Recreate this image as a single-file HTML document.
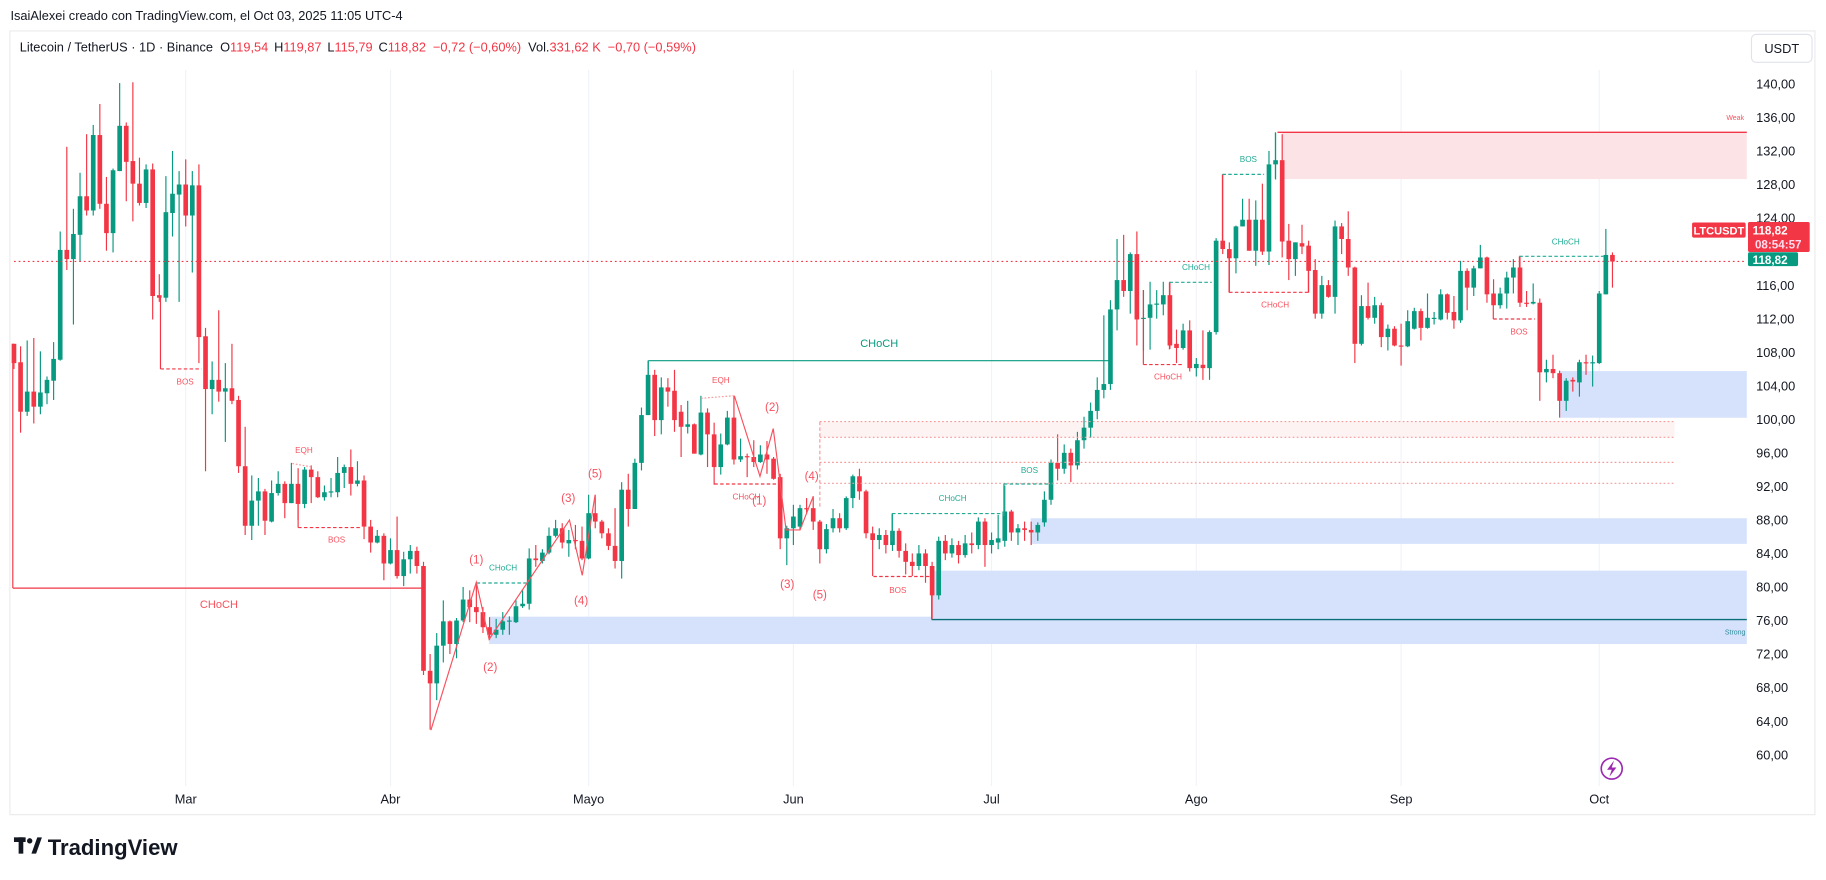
<!DOCTYPE html>
<html><head><meta charset="utf-8"><style>
html,body{margin:0;padding:0;background:#fff;width:1826px;height:880px;overflow:hidden}
svg{display:block}
text{font-family:"Liberation Sans",sans-serif}
</style></head><body>
<svg id="chart" width="1826" height="880" viewBox="0 0 1568 755.6" xmlns="http://www.w3.org/2000/svg">
<text x="9" y="17" font-size="11" fill="#131722">IsaiAlexei creado con TradingView.com, el Oct 03, 2025 11:05 UTC-4</text>
<rect x="8.5" y="26.5" width="1550" height="673" fill="#fff" stroke="#ebebeb"/>
<text x="17" y="44" font-size="11" fill="#131722">Litecoin / TetherUS · 1D · Binance <tspan dx="3">O</tspan><tspan fill="#f23645">119,54</tspan><tspan dx="5">H</tspan><tspan fill="#f23645">119,87</tspan><tspan dx="5">L</tspan><tspan fill="#f23645">115,79</tspan><tspan dx="5">C</tspan><tspan fill="#f23645">118,82</tspan><tspan dx="6" fill="#f23645">−0,72 (−0,60%)</tspan><tspan dx="6">Vol.</tspan><tspan fill="#f23645">331,62 K</tspan><tspan dx="6" fill="#f23645">−0,70 (−0,59%)</tspan></text>
<g id="grid"></g>
<g id="zones"></g>
<g id="candles"></g>
<g id="annot"></g>
<g id="axis"></g>
<g id="tags"></g>
<rect x="1504" y="29.5" width="52" height="24" rx="4" fill="#fff" stroke="#e0e3eb"/>
<text x="1530" y="45.5" font-size="11" text-anchor="middle" fill="#131722">USDT</text>
<g>
<rect x="12" y="719" width="10" height="4" fill="#131722"/><rect x="16" y="719" width="4" height="14" fill="#131722"/>
<circle cx="25.5" cy="722" r="2.3" fill="#131722"/><path d="M27 733 L32 719 L36 719 L31 733 Z" fill="#131722"/>
<text x="41" y="734" font-size="19" font-weight="bold" fill="#131722">TradingView</text>
</g>
<g><circle cx="1384" cy="660" r="9" fill="none" stroke="#9c27b0" stroke-width="1.4"/><path d="M1386 653 L1380 661 L1384 661 L1382 667 L1388 659 L1384 659 Z" fill="#9c27b0"/></g>
</svg>
<script>
const opens=[109,106.8,100.9,103.3,101.5,103.1,104.6,107.1,120.2,119.1,122.0,126.6,124.9,133.9,125.7,122.2,129.6,135.0,130.8,128.1,125.8,129.8,114.8,114.5,124.6,126.8,128.0,124.3,127.9,109.9,103.6,104.7,103.3,103.7,102.3,94.4,87.3,90.3,91.4,87.8,91.2,92.3,90.0,92.3,89.9,94.0,93.1,90.7,91.3,91.3,93.6,94.3,92.3,92.7,87.2,85.3,86.1,82.8,84.4,81.3,83.3,84.3,82.5,70.0,68.5,73.0,75.9,73.2,76.0,78.5,77.6,77.0,75.2,74.3,74.9,75.9,75.8,77.7,78.0,83.4,83.1,84.1,86.1,87.0,85.2,85.6,85.5,83.4,88.8,87.8,86.4,84.9,83.1,91.6,89.3,94.8,100.5,105.3,99.9,103.8,103.4,100.9,99.1,99.4,95.8,100.8,98.2,94.3,97.0,100.2,95.2,95.6,95.5,94.9,95.8,95.3,93.1,85.8,87.0,87.2,89.4,89.4,87.8,84.5,87.0,88.2,87.0,90.6,93.2,91.4,86.4,85.6,86.2,85.0,86.7,84.3,83.0,82.5,84.0,82.5,79.0,85.5,84.0,85.0,83.8,85.2,85.0,87.8,85.0,85.3,85.5,89.0,86.5,87.0,86.8,86.5,87.7,90.4,94.8,94.1,96,94.5,97.5,99,101,103.5,104.2,113.1,116.6,115.3,119.7,112.0,112.1,113.7,113.7,114.8,109.0,108.5,110.6,106.1,106.5,106.1,110.4,121.3,120.3,119.2,123.0,123.8,120.1,123.8,120.0,130.4,130.9,121.3,119.1,121.0,120.7,117.8,112.6,116.0,114.6,123.0,121.5,118.1,109.0,113.5,112.1,113.6,109.8,110.8,108.8,108.7,110.8,112.9,110.9,112.0,111.9,114.9,112.8,111.8,117.7,115.7,118.0,119.3,115.0,113.6,115.0,116.9,118.1,113.9,113.8,113.9,105.6,106.0,105.5,102.2,104.7,104.4,106.8,106.7,106.7,114.9,119.6];
const highs=[109,108.7,109.4,109.7,108.1,105.1,109.2,122.4,132.5,125.1,129.4,134.0,135.1,137.6,128.9,129.9,140.1,135.4,140.2,131.2,130.4,130.5,117.3,129.0,132.0,129.6,131.0,129.6,130.4,110.9,106.9,113.0,106.7,109.0,102.8,99.1,93.3,93.0,91.7,92.7,93.8,92.6,94.8,92.3,94.3,94.5,93.8,92.1,93.0,95.5,94.6,96.4,95.0,93.3,88.0,86.8,86.4,85.8,88.4,84.2,85.0,84.8,83.0,72.0,74.5,78.4,76.0,76.3,80.0,79.6,80.5,77.6,76.4,76.2,77.0,76.5,78.4,79.6,84.6,85.0,84.5,87.1,88.0,87.6,86.8,87.4,87.2,91.0,91.0,88.0,87.0,89.4,92.5,93.5,95.3,101.4,107.0,105.9,105.0,104.9,105.9,101.7,102.2,99.5,102.8,101.3,99.6,98.3,101.0,102.8,97.7,95.9,97.5,96.9,97.4,95.5,93.5,87.3,89.8,89.8,90.6,90.8,88.0,87.5,89.3,88.8,90.8,93.4,94.1,91.6,87.2,87.0,86.8,88.8,87.0,85.2,84.0,85.0,84.5,83.0,86.0,86.2,85.8,85.5,86.2,86.5,88.3,88.2,86.5,88.6,92.1,89.2,87.5,87.8,87.8,87.7,91.4,95.2,98.2,97,96.5,98.5,100.3,102,105,112.4,114.2,121.5,122.0,119.9,122.4,115.4,116.4,115.4,116.4,116.4,110.7,111.4,111.8,107.3,110.6,110.6,121.6,129.2,121.1,123.1,126.3,126.3,126.1,128.1,132.0,134.2,134.0,123.3,121.1,123.2,121.3,119.1,117.1,116.6,123.7,123.4,124.8,118.2,114.8,116.3,114.6,113.9,111.3,111.1,111.4,113.0,113.3,113.2,115.0,112.8,115.5,115.0,114.7,118.9,118.0,118.3,120.8,119.4,116.7,115.7,117.6,119.1,119.5,115.3,116.2,114.4,107.1,107.7,105.8,104.9,105.0,107.1,107.7,107.6,115.3,122.7,119.9];
const lows=[106,98.4,100.4,99.5,100.6,101.8,102.3,107,117.8,111.3,118.8,124.3,124.3,125.1,120.1,119.9,129.6,126.0,123.6,125.5,125.2,111.9,114.0,114.0,121.8,114.0,123.0,117.5,106.7,93.8,100.6,102.1,97.3,101.8,93.6,86.2,85.6,87.3,86.2,87.7,90.9,88.2,90.0,88.0,89.4,90.0,90.6,90.3,90.7,90.7,91.8,90.9,92.0,85.7,84.1,85.2,80.8,82.7,81.0,80.1,81.6,81.6,69.5,63.0,66.5,71.0,72.0,71.5,75.8,75.8,75.6,74.5,73.7,73.9,74.3,74.3,75.7,77.5,77.3,82.4,82.8,83.9,85.9,84.6,83.6,84.5,83.2,83.3,87.0,85.8,84.4,82.2,81.0,87.2,89.3,93.9,100.5,98.0,98.2,101.5,98.5,95.5,98.3,95.9,95.7,94.3,92.2,93.4,96.9,94.6,94.9,93.1,94.3,94.8,93.5,92.8,84.5,82.6,85.0,86.8,88.8,86.8,82.8,84.0,86.5,86.5,86.8,89.4,90.4,85.8,81.3,84.5,84.0,84.3,83.5,81.5,81.3,82.0,80.5,76.2,78.5,83.2,83.5,82.8,83.5,84.0,84.5,82.4,84.0,84.5,84.8,85.5,85.0,85.5,85.0,85.5,87.2,89.8,92.7,93.5,92.5,94,96.5,97.8,100,102.5,103.5,110.6,114.6,112.6,108.8,108.2,108.3,112,112.4,108.4,106.7,108.3,105.7,105.1,104.7,104.7,110.1,119.7,115.1,117.4,123.0,120.1,118.3,119.6,118.4,128.6,119.3,116.6,117.1,119.7,115.1,112.0,112.0,114.5,112.6,119.7,117.1,106.7,108.8,111.9,111.4,108.6,108.2,108.7,106.4,108.6,110.7,109.4,110.8,111.3,111.8,111.9,110.8,111.5,113.0,114.7,118.0,113.9,113.6,113.2,113.2,115.0,113.4,113.4,113.7,102.2,104.4,104.9,100.2,101.0,103.3,102.7,105.3,103.9,106.6,114.9,115.7];
const closes=[106.7,100.9,103.3,101.5,103.2,104.7,107.2,120.2,119.1,122.1,126.6,124.9,133.9,125.7,122.2,129.7,135.0,130.7,128.1,125.8,129.8,114.7,114.5,124.7,126.9,128.0,124.3,127.9,109.8,103.6,104.7,103.3,103.7,102.2,94.4,87.3,90.3,91.4,87.9,91.2,92.3,90.0,92.3,89.9,94.0,93.1,90.7,91.3,91.4,93.6,94.3,92.3,92.7,87.2,85.3,86.1,82.8,84.4,81.3,83.3,84.3,82.5,70.0,68.5,73.0,75.9,73.2,76.0,78.5,77.6,77.0,75.2,74.3,74.9,75.9,76.0,77.7,78.0,83.4,83.2,84.1,86.1,87.0,85.3,85.6,85.5,83.4,88.8,87.8,86.4,84.9,83.1,91.6,89.3,94.8,100.5,105.3,99.9,103.8,103.3,99.9,99.1,99.4,95.9,100.8,98.2,94.3,97.0,100.2,95.2,95.6,95.5,94.9,95.8,95.2,92.9,85.8,87.0,88.4,89.4,89.3,87.8,84.5,86.9,88.2,87.0,90.6,93.2,91.4,86.4,85.6,86.2,85.0,86.7,84.3,83.0,82.5,84.0,82.5,79.0,85.5,84.0,85.0,83.8,85.2,85.0,87.8,85.0,85.6,85.8,89.0,86.5,87.0,86.8,86.5,87.4,90.4,94.8,94.1,96,94.5,97.5,99,101,103.5,104.2,113.1,116.6,115.3,119.7,111.9,112.1,113.7,113.8,114.8,108.8,108.5,110.6,106.1,106.6,106.1,110.4,121.3,120.3,119.2,123.0,123.8,120.1,123.8,120.0,130.4,130.9,121.2,119.1,121.1,120.6,117.7,112.6,116.0,114.6,123.0,121.5,118.1,109.0,113.5,112.1,113.6,109.8,110.8,108.8,108.7,111.7,112.9,110.9,112.1,112.1,114.9,112.7,111.8,117.7,115.7,118.0,119.3,114.9,113.6,115.0,116.9,118.1,113.9,113.8,114.0,105.6,106.0,105.5,102.2,104.6,104.5,106.8,106.7,106.8,115.0,119.6,118.82];
const priceTicks=[140,136,132,128,124,116,112,108,104,100,96,92,88,84,80,76,72,68,64,60];
const monthLabels=["Mar","Abr","Mayo","Jun","Jul","Ago","Sep","Oct"];
const monthDayIndex=[26,57,87,118,148,179,210,240];
const lastPrice=118.82;

const NS="http://www.w3.org/2000/svg";
const GREEN="#089981",RED="#f23645";
function y(p){return 72+(140-p)*7.2;}
function x(i){return 12+i*5.672;}
function mk(parent,tag,attrs){const e=document.createElementNS(NS,tag);for(const k in attrs)e.setAttribute(k,attrs[k]);document.getElementById(parent).appendChild(e);return e;}

monthDayIndex.forEach((d,k)=>{
  const g=mk('grid','line',{x1:x(d),x2:x(d),y1:60,y2:675,stroke:'#f0f3fa','stroke-width':1});
  
  
  const t=mk('axis','text',{x:x(d),y:690,'font-size':11,'text-anchor':'middle',fill:'#131722'});
  t.textContent=monthLabels[k];
  
  
});
priceTicks.forEach(p=>{
  const t=mk('axis','text',{x:1508,y:y(p)+4,'font-size':11,fill:'#131722'});
  t.textContent=p.toFixed(2).replace('.',',');
  
  
});

function rect(par,name,x1,y1,x2,y2,fill,extra){const r=mk(par,'rect',Object.assign({x:x1,y:y1,width:x2-x1,height:y2-y1,fill:fill},extra||{}));return r;}
rect('zones','supply-zone-weak',1101,113.6,1500,153.7,'#fce4e6');
rect('zones','demand-zone-1',1339,318.6,1500,358.7,'#d6e2fc');
rect('zones','demand-zone-2',885,445,1500,467,'#d6e2fc');
rect('zones','demand-zone-3',800,490,1500,531,'#d6e2fc');
rect('zones','demand-zone-4',420,529.5,1500,553,'#d6e2fc');
rect('zones','fvg-zone',704,362,1438,375.5,'#fdf3f2');

for(let i=0;i<closes.length;i++){
  const up=closes[i]>=opens[i],c=up?GREEN:RED,cx=x(i);
  const w=mk('candles','line',{x1:cx,x2:cx,y1:y(highs[i]),y2:y(lows[i]),stroke:c,'stroke-width':1});
  
  
  const top=y(Math.max(opens[i],closes[i])),bot=y(Math.min(opens[i],closes[i]));
  const b=mk('candles','rect',{x:cx-2,y:top,width:4,height:Math.max(1,bot-top),fill:c});
  
  
}

function ln(name,x1,y1,x2,y2,col,dash,w){const l=mk('annot','line',{x1,y1,x2,y2,stroke:col,'stroke-width':w||1,'stroke-dasharray':dash||'none'});return l;}
function tx(name,t,xx,yy,col,fs,par,bold){const e=mk(par||'annot','text',{x:xx,y:yy,fill:col,'font-size':fs||7,'text-anchor':'middle','font-weight':bold?'bold':'normal'});e.textContent=t;return e;}
const LR="#f7525f",LG="#22ab94",DOT="#f59a9a";
ln('last-price-line',12,y(lastPrice),1500,y(lastPrice),RED,'1.5 2.5');
ln('zone-line',704,362,1438,362,DOT,'1.5 2');ln('zone-line',704,375.5,1438,375.5,DOT,'1.5 2');
ln('zone-line',704,397,1438,397,DOT,'1.5 2');ln('zone-line',704,415,1438,415,DOT,'1.5 2');
ln('zone-line',704,362,704,436,DOT,'3 2');
ln('weak-high-line',1097,113.6,1500,113.6,RED,null,1.2);
ln('weak-high-vert',1095.2,113.6,1095.2,153.7,GREEN);
tx('weak-label','Weak',1490,103,LR,6);
ln('strong-low-line',800,532,1500,532,'#0b6e78',null,1.2);
ln('strong-low-vert',800,505,800,532,RED);
tx('strong-label','Strong',1490,545,'#2f8c9a',6);
ln('choch-red-vert',11,295,11,505,RED);ln('choch-red-line',11,505,362,505,RED);
tx('choch-label','CHoCH',188,522,LR,9.5);
ln('choch-green-vert',556.7,309.7,556.7,322,'#089981');ln('choch-green-line',556.7,309.7,952,309.7,'#089981');
tx('choch-label','CHoCH',755,298,'#089981',9.5);
ln('bos-vert',137.8,y(114.7),137.8,316.8,RED);ln('bos-line',137.8,316.8,173,316.8,RED,'3 2');
tx('bos-label','BOS',159,330,LR);
ln('eqh-line',251,398,268,401,DOT,'1.5 1.5');tx('eqh-label','EQH',261,389,LR);
ln('bos-vert',256,402,256,453,RED);ln('bos-line',256,453,310,453,RED,'3 2');tx('bos-label','BOS',289,466,LR);
ln('choch-line',409.3,500.6,452,500.6,LG,'3 2');tx('choch-label','CHoCH',432,490,LG);
const wave=mk('annot','polyline',{points:'370,627 409,500 420,549 489,446.5 500,494 511,425',fill:'none',stroke:LR,'stroke-width':1});


tx('wave-label','(1)',409,484,LR,10);tx('wave-label','(2)',421,576,LR,10);tx('wave-label','(3)',488,431,LR,10);tx('wave-label','(4)',499,519,LR,10);tx('wave-label','(5)',511,410,LR,10);
const wave2=mk('annot','polyline',{points:'630.6,339.8 652.6,409 664,368 675,455 687,455 698.4,426',fill:'none',stroke:LR,'stroke-width':1});


ln('eqh-line',602,342,630,339.8,DOT,'1.5 1.5');tx('eqh-label','EQH',619,329,LR);
ln('choch-line',613.4,415.6,668.4,415.6,RED,'3 2');tx('choch-label','CHoCH',641,429,LR);
tx('wave-label','(2)',663,353,LR,10);tx('wave-label','(1)',652,433,LR,10);tx('wave-label','(3)',676,505,LR,10);tx('wave-label','(4)',697,412,LR,10);tx('wave-label','(5)',704,514,LR,10);
ln('choch-vert',766,441,766,465,LG);ln('choch-line',766,441,862,441,LG,'3 2');tx('choch-label','CHoCH',818,430,LG);
ln('bos-line',750,495,800,495,RED,'3 2');tx('bos-label','BOS',771,509,LR);
ln('bos-vert',862,415.6,862,443,LG);ln('bos-line',862,415.6,904.5,415.6,LG,'3 2');tx('bos-label','BOS',884,406,LG);
ln('choch-vert',981.8,249,981.8,313,RED);ln('choch-line',981.8,313,1016,313,RED,'3 2');tx('choch-label','CHoCH',1003,326,LR);
ln('choch-vert',1004.2,242.4,1004.2,300,RED);ln('choch-line',1004.2,242.4,1040.5,242.4,LG,'3 2');tx('choch-label','CHoCH',1027,232,LG);
ln('bos-vert',1049.7,149.7,1049.7,206.7,RED);ln('bos-line',1049.7,149.7,1085.5,149.7,LG,'3 2');tx('bos-label','BOS',1072,139,LG);
ln('choch-vert',1055.4,214,1055.4,251,RED);ln('choch-vert',1123.5,210,1123.5,251,RED);ln('choch-line',1055.4,251,1123.5,251,RED,'3 2');tx('choch-label','CHoCH',1095,264,LR);
ln('bos-vert',1282.3,252,1282.3,273.9,RED);ln('bos-line',1282.3,273.9,1318,273.9,RED,'3 2');tx('bos-label','BOS',1304.4,287,LR);
ln('choch-vert',1304.7,220.1,1304.7,231,RED);ln('choch-line',1304.7,220.1,1376.8,220.1,LG,'3 2');tx('choch-label','CHoCH',1344.5,210,LG);

rect('tags','symbol-tag',1453,191,1499,204,RED,{rx:1.5});
tx('symbol-tag-text','LTCUSDT',1476,201.5,'#fff',9.5,'tags',true);
rect('tags','last-price-tag',1501,190.6,1554,216.4,RED,{rx:1.5});
tx('last-price-text','118,82',1520,201.5,'#fff',10,'tags',true);
tx('countdown-text','08:54:57',1527,213.5,'#fde',10,'tags',true);
rect('tags','close-price-tag',1501,216.6,1544,228.5,GREEN,{rx:1.5});
tx('close-price-text','118,82',1520,226.5,'#fff',10,'tags',true);
</script>
</body></html>
